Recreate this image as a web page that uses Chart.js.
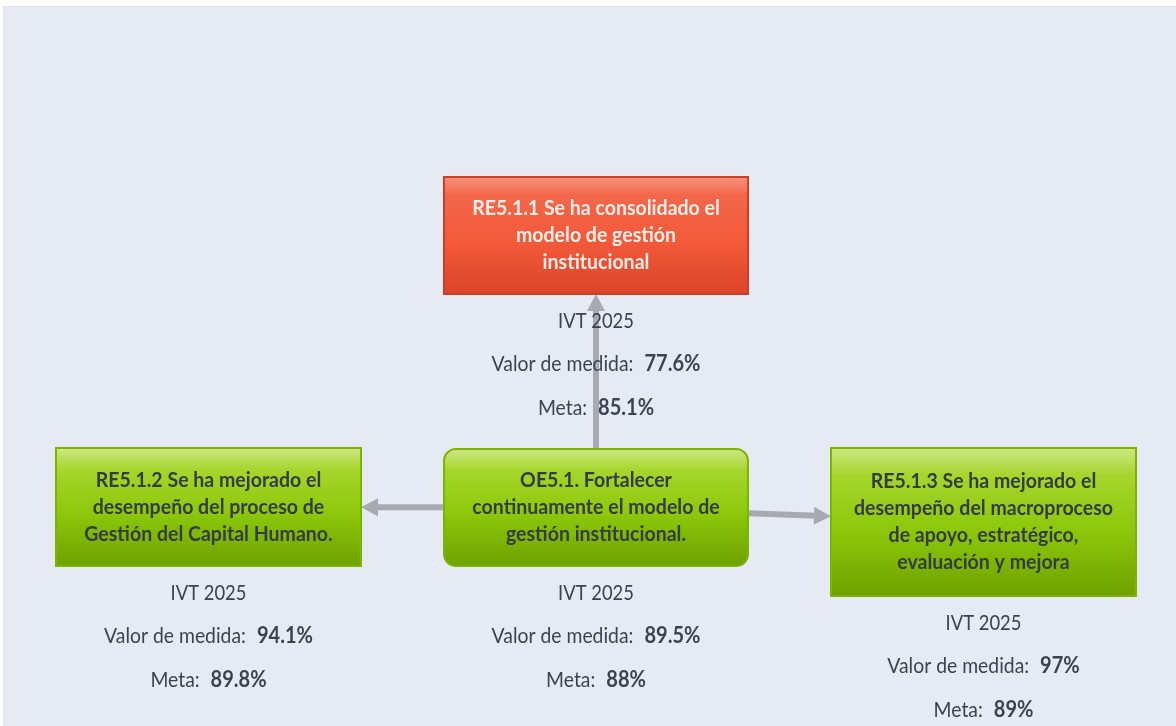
<!DOCTYPE html>
<html>
<head>
<meta charset="utf-8">
<script src="https://cdn.jsdelivr.net/npm/chart.js@4.4.1/dist/chart.umd.min.js"></script>
<style>
  html, body { margin: 0; padding: 0; background: #fff; }
  #wrap { width: 1176px; height: 726px; }
</style>
</head>
<body>
<div id="wrap"><canvas id="mapChart" width="1176" height="726"></canvas></div>
<script>
// objective + expected results
const nodeTitles = [
  ['RE5.1.1 Se ha consolidado el', 'modelo de gestión', 'institucional'],
  ['OE5.1. Fortalecer', 'continuamente el modelo de', 'gestión institucional.'],
  ['RE5.1.2 Se ha mejorado el', 'desempeño del proceso de', 'Gestión del Capital Humano.'],
  ['RE5.1.3 Se ha mejorado el', 'desempeño del macroproceso', 'de apoyo, estratégico,', 'evaluación y mejora']
];
const periods = ['IVT 2025', 'IVT 2025', 'IVT 2025', 'IVT 2025'];
const measureValues = [77.6, 89.5, 94.1, 97];
const targetValues = [85.1, 88, 89.8, 89];
const links = [[1, 0], [1, 2], [1, 3]];   // from -> to

// layout of the map (axis units == px)
const boxX = [596, 596, 208.5, 983.5];
const boxY = [235.5, 507.5, 507, 522];
const boxW = [304, 304, 305, 305];
const boxH = [117, 117, 118, 148];
const boxRadius = [0, 12, 0, 0];

// the source font is narrow, so text is squeezed a bit
const SQ_TITLE = 0.93, SQ_LABEL = 0.88, SQ_VALUE = 0.91;
const FONT = 'Lato';
const ARROW = '#a7aab0';

function fmt(v) { return v + '%'; }

function clip(i, j) {
  // point where the centre-to-centre line leaves box i
  const dx = boxX[j] - boxX[i], dy = boxY[j] - boxY[i];
  const tx = dx === 0 ? Infinity : (boxW[i] / 2) / Math.abs(dx);
  const ty = dy === 0 ? Infinity : (boxH[i] / 2) / Math.abs(dy);
  const t = Math.min(tx, ty);
  return { x: boxX[i] + dx * t, y: boxY[i] + dy * t };
}

const arrowSets = links.map(([a, b]) => {
  const p0 = clip(a, b), p1 = clip(b, a);
  const len = Math.hypot(p1.x - p0.x, p1.y - p0.y);
  const k = (len - 14) / len;   // stop the shaft under the head
  return {
    type: 'line',
    data: [p0, { x: p0.x + (p1.x - p0.x) * k, y: p0.y + (p1.y - p0.y) * k }],
    borderColor: ARROW,
    borderWidth: 6,
    pointRadius: 0,
    tip: p1
  };
});

function squeezed(ctx, txt, x, y, sq) {
  ctx.save();
  ctx.translate(x, y);
  ctx.scale(sq, 1);
  ctx.fillText(txt, 0, 0);
  ctx.restore();
}

function centred(ctx, txt, x, y, sq) {
  const w = ctx.measureText(txt).width * sq;
  ctx.textAlign = 'left';
  squeezed(ctx, txt, x - w / 2, y, sq);
}

function roundRect(ctx, x, y, w, h, r) {
  ctx.beginPath();
  if (r > 0) ctx.roundRect(x, y, w, h, r); else ctx.rect(x, y, w, h);
}

const mapPlugin = {
  id: 'mapPlugin',
  beforeDraw(chart) {
    const ctx = chart.ctx;
    ctx.save();
    ctx.fillStyle = '#ffffff';
    ctx.fillRect(0, 0, chart.width, chart.height);
    ctx.fillStyle = '#dde2ea';
    ctx.fillRect(3, 6, chart.width - 3, chart.height - 6);
    ctx.fillStyle = '#e6eaf2';
    ctx.fillRect(4, 7, chart.width - 4, chart.height - 7);
    ctx.restore();
  },
  afterDatasetsDraw(chart) {
    const ctx = chart.ctx;
    const xs = chart.scales.x, ys = chart.scales.y;
    ctx.save();

    // arrow heads
    arrowSets.forEach(s => {
      const a = s.data[0];
      const tx = xs.getPixelForValue(s.tip.x), ty = ys.getPixelForValue(s.tip.y);
      const ax = xs.getPixelForValue(a.x), ay = ys.getPixelForValue(a.y);
      const ang = Math.atan2(ty - ay, tx - ax);
      ctx.save();
      ctx.translate(tx, ty);
      ctx.rotate(ang);
      ctx.beginPath();
      ctx.moveTo(0, 0);
      ctx.lineTo(-17, -9);
      ctx.lineTo(-17, 9);
      ctx.closePath();
      ctx.fillStyle = ARROW;
      ctx.fill();
      ctx.restore();
    });

    nodeTitles.forEach((lines, i) => {
      const ok = measureValues[i] >= targetValues[i];
      const cx = xs.getPixelForValue(boxX[i]), cy = ys.getPixelForValue(boxY[i]);
      const w = boxW[i], h = boxH[i];
      const x0 = cx - w / 2, y0 = cy - h / 2;

      const g = ctx.createLinearGradient(0, y0, 0, y0 + h);
      if (ok) {
        g.addColorStop(0, '#cfe787');
        g.addColorStop(0.18, '#a6d62c');
        g.addColorStop(0.55, '#8dc80a');
        g.addColorStop(1, '#6ea200');
      } else {
        g.addColorStop(0, '#f6957d');
        g.addColorStop(0.15, '#f3674a');
        g.addColorStop(0.55, '#f25a3a');
        g.addColorStop(1, '#db4428');
      }
      roundRect(ctx, x0, y0, w, h, boxRadius[i]);
      ctx.fillStyle = g;
      ctx.fill();
      ctx.lineWidth = 2;
      ctx.strokeStyle = ok ? '#7cb400' : '#cc3f27';
      ctx.stroke();

      // title
      ctx.font = 'bold 21px ' + FONT;
      ctx.textBaseline = 'middle';
      ctx.fillStyle = ok ? '#343c48' : '#fdeee9';
      const lh = 27;
      const top = cy - (lines.length - 1) * lh / 2;
      lines.forEach((t, k) => centred(ctx, t, cx, top + k * lh, SQ_TITLE));

      // figures under the box
      const by = y0 + h;
      ctx.fillStyle = '#3b4350';
      ctx.font = '22px ' + FONT;
      centred(ctx, periods[i], cx, by + 26.5, SQ_LABEL * 0.95);

      [['Valor de medida:', measureValues[i]], ['Meta:', targetValues[i]]].forEach(([lab, v], k) => {
        const yy = by + 70 + k * 44;
        ctx.font = '22px ' + FONT;
        const w1 = ctx.measureText(lab).width * SQ_LABEL;
        ctx.font = 'bold 22px ' + FONT;
        const w2 = ctx.measureText(fmt(v)).width * SQ_VALUE;
        const gap = 11;
        const sx = cx - (w1 + gap + w2) / 2;
        ctx.textAlign = 'left';
        ctx.font = '22px ' + FONT;
        squeezed(ctx, lab, sx, yy, SQ_LABEL);
        ctx.font = 'bold 22px ' + FONT;
        squeezed(ctx, fmt(v), sx + w1 + gap, yy, SQ_VALUE);
      });
    });
    ctx.restore();
  }
};

new Chart(document.getElementById('mapChart').getContext('2d'), {
  type: 'scatter',
  data: {
    datasets: [
      ...arrowSets,
      {
        label: 'nodes',
        data: boxX.map((x, i) => ({ x: x, y: boxY[i] })),
        pointRadius: 0
      }
    ]
  },
  options: {
    responsive: false,
    devicePixelRatio: 1,
    animation: false,
    events: [],
    layout: { padding: 0 },
    scales: {
      x: { type: 'linear', min: 0, max: 1176, display: false },
      y: { type: 'linear', min: 0, max: 726, reverse: true, display: false }
    },
    plugins: {
      legend: { display: false },
      tooltip: { enabled: false }
    }
  },
  plugins: [mapPlugin]
});
</script>
</body>
</html>
